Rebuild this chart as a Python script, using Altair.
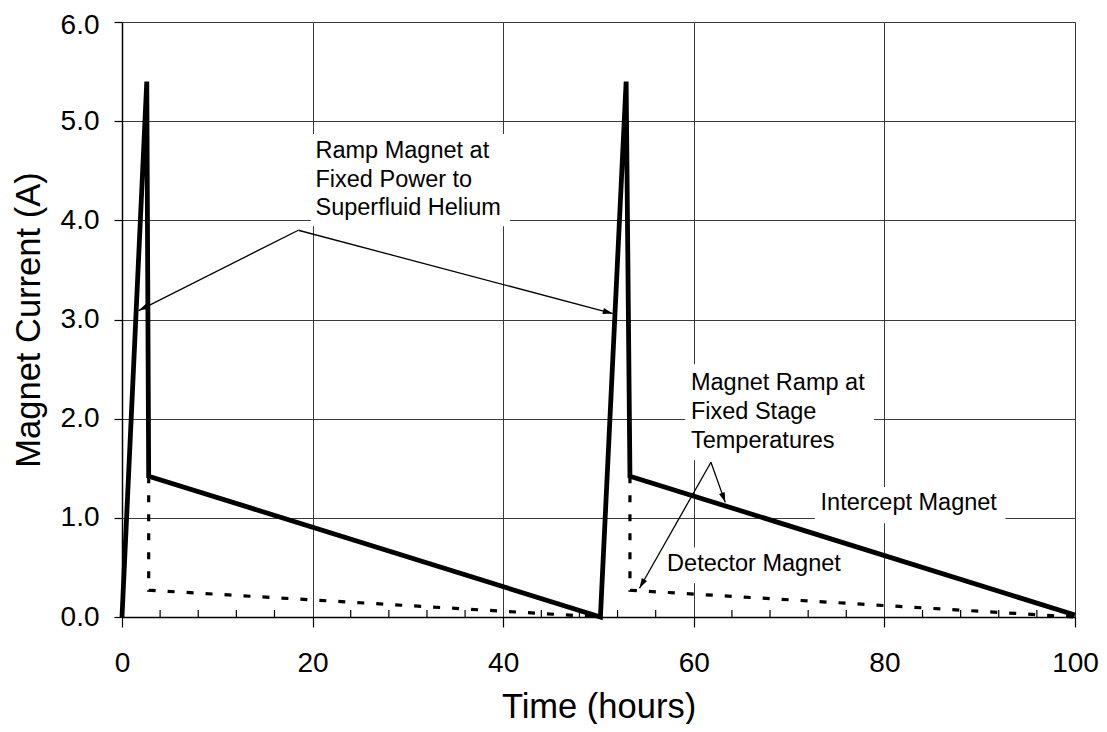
import math
import altair as alt
import pandas as pd

# ---------------- data ----------------
# Intercept magnet (solid thick line)
int_t = [0.0, 2.6, 2.8, 50.2, 52.9, 53.3, 100.0]
int_i = [0.0, 5.4, 1.42, 0.0, 5.4, 1.42, 0.02]

# Detector magnet (dashed line), two segments
det_t = [2.8, 2.8, 50.2, 53.3, 53.3, 100.0]
det_i = [1.42, 0.27, 0.0, 1.42, 0.27, 0.0]
det_seg = [1, 1, 1, 2, 2, 2]

# axis tick values
x_major = [0, 20, 40, 60, 80, 100]
x_minor = [4, 8, 12, 16, 24, 28, 32, 36, 44, 48, 52, 56, 64, 68, 72, 76, 84, 88, 92, 96]
y_major = [0, 1, 2, 3, 4, 5, 6]

# annotation texts (data coordinates)
ann_text = ["Ramp Magnet at", "Fixed Power to", "Superfluid Helium",
            "Magnet Ramp at", "Fixed Stage", "Temperatures",
            "Intercept Magnet", "Detector Magnet"]
ann_x = [20.3, 20.3, 20.3, 59.7, 59.7, 59.7, 73.3, 57.2]
ann_y = [4.626, 4.335, 4.05, 2.288, 1.997, 1.705, 1.075, 0.465]

# white boxes behind annotation texts
box_x = [19.8, 59.1, 72.7, 56.7]
box_x2 = [40.7, 78.9, 92.7, 75.4]
box_y = [3.94, 1.58, 0.945, 0.34]
box_y2 = [4.87, 2.55, 1.31, 0.70]

# arrows: from (start) to (tip)
arr_x1 = [18.5, 18.5, 61.8, 61.8]
arr_y1 = [3.9, 3.9, 1.56, 1.56]
arr_x2 = [1.75, 51.5, 63.3, 54.3]
arr_y2 = [3.09, 3.06, 1.156, 0.29]

# ---------------- layout / style ----------------
W, H = 953, 595
FONT = "Liberation Sans"
XMAX, YMAX = 100.0, 6.0

df_int = pd.DataFrame({"t": int_t, "i": int_i, "idx": list(range(len(int_t)))})
df_det = pd.DataFrame({"t": det_t, "i": det_i, "seg": det_seg, "idx": list(range(len(det_t)))})
df_minor = pd.DataFrame({"m": x_minor})
df_ann = pd.DataFrame({"tx": ann_x, "ty": ann_y, "label": ann_text})
df_box = pd.DataFrame({"bx": box_x, "bx2": box_x2, "by": box_y, "by2": box_y2})

angles = []
for a, b, c, d in zip(arr_x1, arr_y1, arr_x2, arr_y2):
    dx = (c - a) * W / XMAX
    dy = -(d - b) * H / YMAX
    angles.append(math.degrees(math.atan2(dx, -dy)) % 360)
df_arr = pd.DataFrame({"ax": arr_x1, "ay": arr_y1, "ax2": arr_x2, "ay2": arr_y2, "ang": angles})

xscale = alt.Scale(domain=[0, XMAX], nice=False, zero=False)
yscale = alt.Scale(domain=[0, YMAX], nice=False, zero=False)

GRID = "#3a3a3a"

xaxis = alt.Axis(
    values=x_major, format="d", title="Time (hours)",
    grid=True, gridColor=GRID, gridWidth=1,
    domainColor="black", domainWidth=1.5,
    tickColor="black", tickWidth=1.2, tickSize=10,
    labelFont=FONT, labelFontSize=28, labelColor="black",
    labelBaseline="alphabetic", labelPadding=44,
    labelFlush=False, labelOverlap=False,
    titleFont=FONT, titleFontSize=34.5, titleFontWeight="normal", titleColor="black",
    titleX=W / 2, titleY=100, titleBaseline="alphabetic", titleAlign="center",
)
yaxis = alt.Axis(
    values=y_major, format=".1f", title="Magnet Current (A)",
    grid=True, gridColor=GRID, gridWidth=1,
    domainColor="black", domainWidth=1.5,
    tickColor="black", tickWidth=1.2, tickSize=8,
    labelFont=FONT, labelFontSize=28, labelColor="black",
    labelBaseline="middle", labelPadding=15,
    labelOffset={"condition": {"test": "datum.value == 6", "value": 3}, "value": 0},
    labelFlush=False, labelOverlap=False,
    titleFont=FONT, titleFontSize=34.5, titleFontWeight="normal", titleColor="black",
    titleAngle=270, titleX=-83, titleY=H / 2, titleBaseline="alphabetic", titleAlign="center",
)


def X(f):
    return alt.X(f, type="quantitative", scale=xscale, axis=xaxis)


def Y(f):
    return alt.Y(f, type="quantitative", scale=yscale, axis=yaxis)


boxes = alt.Chart(df_box).mark_rect(color="white").encode(
    x=X("bx"), x2="bx2", y=Y("by"), y2="by2"
)

dashed = alt.Chart(df_det).mark_line(
    color="black", strokeWidth=3.2, strokeDash=[7, 12]
).encode(x=X("t"), y=Y("i"), detail="seg:N", order="idx:Q")

solid = alt.Chart(df_int).mark_line(
    color="black", strokeWidth=4.8
).encode(x=X("t"), y=Y("i"), order="idx:Q")

minor = alt.Chart(df_minor).mark_rule(color="black", strokeWidth=1.2).encode(
    x=X("m"), y=alt.value(H - 7), y2=alt.value(H)
)

texts = alt.Chart(df_ann).mark_text(
    font=FONT, fontSize=23.5, color="black", align="left", baseline="alphabetic"
).encode(x=X("tx"), y=Y("ty"), text="label:N")

arrow_lines = alt.Chart(df_arr).mark_rule(color="black", strokeWidth=1.3).encode(
    x=X("ax"), y=Y("ay"), x2="ax2", y2="ay2"
)

arrow_heads = alt.Chart(df_arr).mark_point(
    shape="M0,0L-0.6,2L0.6,2Z", filled=True, color="black", opacity=1, size=100
).encode(x=X("ax2"), y=Y("ay2"), angle=alt.Angle("ang:Q", scale=None))

chart = alt.layer(
    boxes, dashed, solid, minor, texts, arrow_lines, arrow_heads
).properties(
    width=W, height=H,
    autosize=alt.AutoSizeParams(type="none"),
    padding={"left": 114, "top": 14, "right": 24, "bottom": 107},
    background="white",
).configure_view(stroke="transparent").configure(font=FONT)

chart.save("out.html", embed_options={"renderer": "svg", "actions": False})
